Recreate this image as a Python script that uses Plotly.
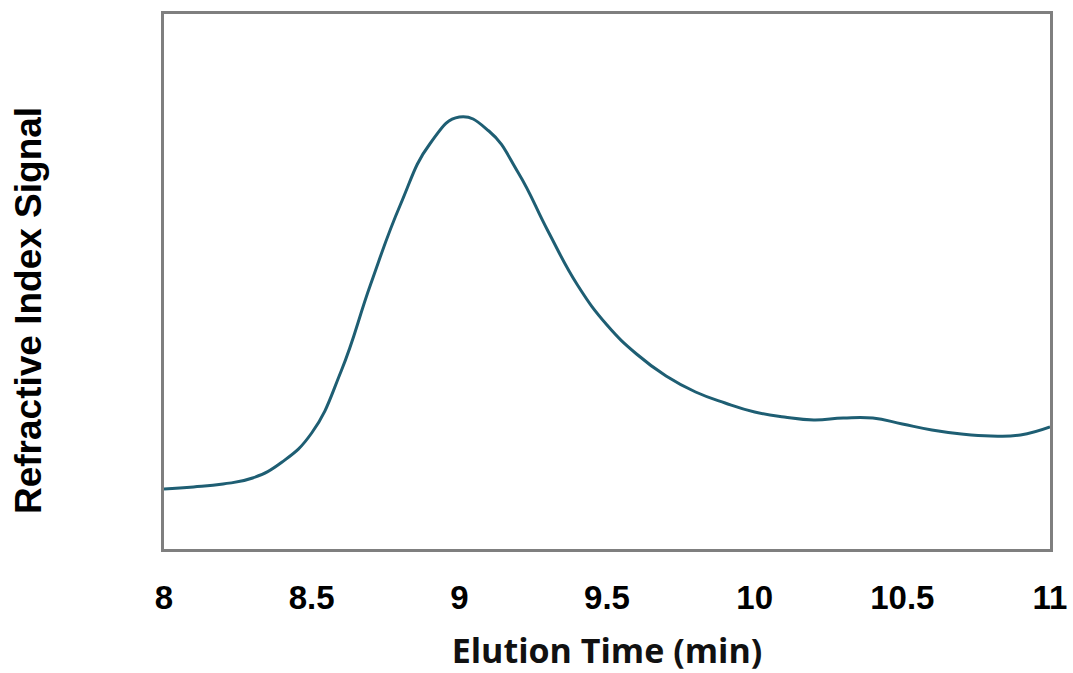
import plotly.graph_objects as go

elution_time = [8.0, 8.1, 8.2, 8.3, 8.4, 8.5, 8.6, 8.7, 8.8, 8.9, 9.0, 9.1, 9.2, 9.3, 9.4, 9.5,
                9.6, 9.7, 9.8, 9.9, 10.0, 10.1, 10.2, 10.3, 10.4, 10.5, 10.6, 10.7, 10.8, 10.9, 11.0]
ri_signal = [60, 62, 65, 71, 87, 116, 178, 265, 344, 405, 432, 418, 376, 318, 264, 224,
             195, 173, 157, 146, 137, 132, 129, 131, 131, 125, 119, 115, 113, 114, 122]
x_ticks = [8, 8.5, 9, 9.5, 10, 10.5, 11]
x_tick_labels = ["8", "8.5", "9", "9.5", "10", "10.5", "11"]

fig = go.Figure()
fig.add_trace(go.Scatter(x=elution_time, y=ri_signal, mode="lines",
                         line=dict(color="#1E5E73", width=3, shape="spline", smoothing=1.3),
                         hoverinfo="skip", showlegend=False))

fig.add_annotation(text="Refractive Index Signal", textangle=-90,
                   xref="paper", yref="paper", x=-0.1535, y=0.4467,
                   xanchor="center", yanchor="middle", showarrow=False,
                   font=dict(family="Liberation Sans", size=37, color="black", weight="bold"))

fig.update_layout(
    width=1073, height=673,
    margin=dict(l=164, r=23, t=14, b=124),
    paper_bgcolor="white", plot_bgcolor="white",
    xaxis=dict(range=[8, 11], tickvals=x_ticks, ticktext=x_tick_labels, automargin=False,
               showgrid=False, zeroline=False, showline=True, mirror=True,
               linecolor="#7F7F7F", linewidth=3, ticks="", ticklabelstandoff=17,
               tickfont=dict(family="Liberation Sans", size=33, color="black", weight="bold"),
               title=dict(text="Elution Time (min)", standoff=26,
                          font=dict(family="Open Sans", size=34, color="#111111", weight="bold"))),
    yaxis=dict(range=[0, 535], showticklabels=False, showgrid=False, zeroline=False,
               showline=True, mirror=True, linecolor="#7F7F7F", linewidth=3, ticks="",
               automargin=False),
)

fig.write_html("out.html")
